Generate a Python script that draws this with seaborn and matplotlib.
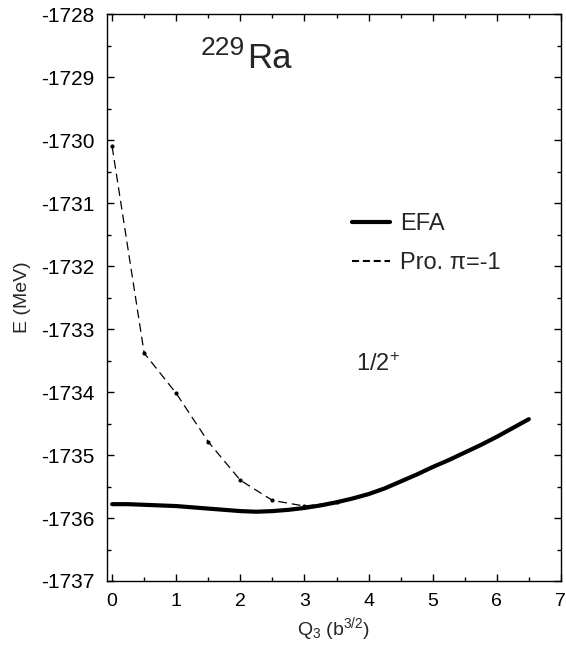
import numpy as np
import pandas as pd
import matplotlib
matplotlib.use("Agg")
import matplotlib.pyplot as plt
from matplotlib.ticker import MultipleLocator
import seaborn as sns

# Deformation coordinate Q3 (b^{3/2}) and energies (MeV)
q3_efa = [0.0, 0.25, 0.5, 0.75, 1.0, 1.25, 1.5, 1.75, 2.0, 2.25, 2.5, 2.75, 3.0,
          3.25, 3.5, 3.75, 4.0, 4.25, 4.5, 4.75, 5.0, 5.25, 5.5, 5.75, 6.0,
          6.25, 6.5]
e_efa = [-1735.78, -1735.78, -1735.79, -1735.80, -1735.81, -1735.83, -1735.85,
         -1735.87, -1735.89, -1735.90, -1735.89, -1735.87, -1735.84, -1735.80,
         -1735.75, -1735.69, -1735.62, -1735.53, -1735.42, -1735.31, -1735.19,
         -1735.08, -1734.96, -1734.84, -1734.71, -1734.57, -1734.43]

q3_pro = [0.0, 0.5, 1.0, 1.5, 2.0, 2.5, 3.0, 3.5]
e_pro = [-1730.10, -1733.38, -1734.02, -1734.79, -1735.40, -1735.72, -1735.81, -1735.75]

x_ticks = [0, 1, 2, 3, 4, 5, 6, 7]
y_ticks = [-1737, -1736, -1735, -1734, -1733, -1732, -1731, -1730, -1729, -1728]

df_efa = pd.DataFrame({"Q3": q3_efa, "E": e_efa})
df_pro = pd.DataFrame({"Q3": q3_pro, "E": e_pro})

sns.set_style("ticks")
plt.rcParams["font.family"] = ["Liberation Sans", "DejaVu Sans"]
plt.rcParams["axes.unicode_minus"] = False
plt.rcParams["mathtext.fontset"] = "custom"
plt.rcParams["mathtext.rm"] = "Liberation Sans"
plt.rcParams["mathtext.it"] = "Liberation Sans:italic"

fig = plt.figure(figsize=(5.66, 6.48), dpi=100)
ax = fig.add_axes([0.189, 0.1034, 0.802, 0.8746])

sns.lineplot(data=df_efa, x="Q3", y="E", ax=ax, color="black", lw=3.0,
             label="EFA", sort=False)
sns.lineplot(data=df_pro, x="Q3", y="E", ax=ax, color="black", lw=0.9,
             dashes=False, label="Pro. π=-1", sort=False,
             marker="o", markersize=3, markeredgewidth=0)
ax.lines[1].set_linestyle((0, (7, 4)))

ax.set_xlim(-0.08, 7.0)
ax.set_ylim(-1737, -1728)
ax.set_xticks(x_ticks)
ax.set_yticks(y_ticks)
ax.xaxis.set_minor_locator(MultipleLocator(0.5))
ax.yaxis.set_minor_locator(MultipleLocator(0.5))
ax.tick_params(which="both", direction="in", top=True, right=True,
               width=1.0, colors="black")
ax.tick_params(which="major", length=5)
ax.tick_params(which="minor", length=3)
ax.tick_params(axis="x", pad=9, labelsize=14)
ax.tick_params(axis="y", pad=9, labelsize=15)
for s in ax.spines.values():
    s.set_linewidth(1.0)
    s.set_color("black")

ax.set_xlabel("Q$_3$ (b$^{3/2}$)", fontsize=14, labelpad=3)
ax.set_ylabel("E (MeV)", fontsize=14, labelpad=7)

# nucleus label: mass number raised in front of the element symbol
ax.annotate("Ra", xy=(2.1, -1728.86), fontsize=25, ha="left", va="baseline")
ax.annotate("229", xy=(2.1, -1728.86), xytext=(-1, 10), textcoords="offset points",
            fontsize=19, ha="right", va="baseline")
ax.text(4.14, -1733.56, "1/2$^{+}$", fontsize=17, ha="center", va="center")

leg = ax.legend(loc="upper left", bbox_to_anchor=(0.54, 0.649), frameon=False,
                fontsize=17, handlelength=1.6, handletextpad=0.42,
                labelspacing=0.72, borderpad=0, borderaxespad=0)
leg.get_lines()[1].set_linestyle((0, (3.4, 1.8)))
leg.get_lines()[1].set_marker("")
leg.get_lines()[1].set_linewidth(1.5)

fig.savefig("out.png", dpi=100)
